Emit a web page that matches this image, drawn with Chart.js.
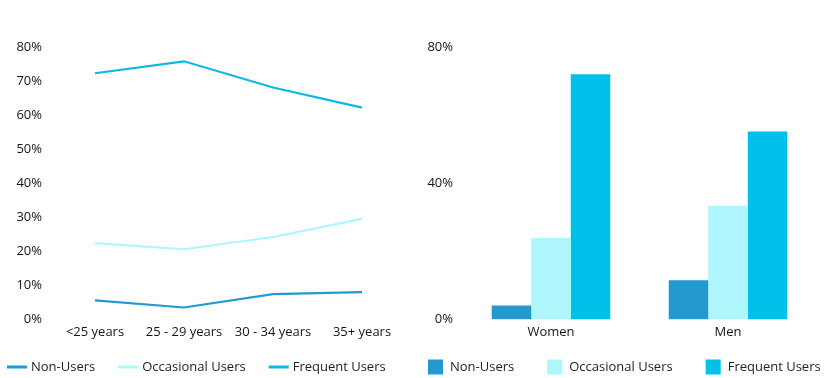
<!DOCTYPE html>
<html>
<head>
<meta charset="utf-8">
<script src="https://cdn.jsdelivr.net/npm/chart.js@4.4.1/dist/chart.umd.min.js"></script>
<style>
  html, body { margin: 0; padding: 0; background: #fff; overflow: hidden; }
  #wrapL { position: absolute; left: 0; top: 0; width: 415px; height: 378px; }
  #wrapR { position: absolute; left: 415px; top: 0; width: 423px; height: 378px; }
</style>
</head>
<body>
<div id="wrapL"><canvas id="lineChart"></canvas></div>
<div id="wrapR"><canvas id="barChart"></canvas></div>
<script>
const ageGroups = ['<25 years', '25 - 29 years', '30 - 34 years', '35+ years'];
const ageNonUsers = [5.6, 3.5, 7.4, 8.0];
const ageOccasional = [22.4, 20.6, 24.2, 29.5];
const ageFrequent = [72.3, 75.8, 68.1, 62.2];

const genders = ['Women', 'Men'];
const genderNonUsers = [4.1, 11.5];
const genderOccasional = [23.9, 33.4];
const genderFrequent = [72.0, 55.2];

const seriesNames = ['Non-Users', 'Occasional Users', 'Frequent Users'];

const cNon = '#2399cf';
const cOcc = '#aff6fc';
const cFreq = '#00c0e9';
const cFreqLine = '#0ab9e4';

const FONT = "'Open Sans', sans-serif";
Chart.defaults.font.family = FONT;
Chart.defaults.font.size = 13;
Chart.defaults.color = '#151515';
Chart.defaults.animation = false;
Chart.defaults.maintainAspectRatio = false;
Chart.defaults.responsive = true;

// Simple bottom legend drawn from the chart's own datasets
const bottomLegend = {
  id: 'bottomLegend',
  afterDraw(chart, args, o) {
    const ctx = chart.ctx;
    ctx.save();
    ctx.font = '13px ' + FONT;
    ctx.textBaseline = 'middle';
    ctx.textAlign = 'left';
    let x = o.startX;
    const y = o.y;
    chart.data.datasets.forEach((ds) => {
      const col = ds.borderColor && o.style === 'line' ? ds.borderColor : ds.backgroundColor;
      if (o.style === 'line') {
        ctx.strokeStyle = col;
        ctx.lineWidth = 3;
        ctx.beginPath();
        ctx.moveTo(x, y);
        ctx.lineTo(x + o.markW, y);
        ctx.stroke();
      } else {
        ctx.fillStyle = col;
        ctx.fillRect(x, y - o.markW / 2, o.markW, o.markW);
      }
      x += o.markW + o.textGap;
      ctx.fillStyle = '#222';
      ctx.fillText(ds.label, x, y + 0.5);
      x += ctx.measureText(ds.label).width + o.itemGap;
    });
    ctx.restore();
  }
};

new Chart(document.getElementById('lineChart'), {
  type: 'line',
  data: {
    labels: ageGroups,
    datasets: [
      { label: seriesNames[0], data: ageNonUsers, borderColor: cNon, backgroundColor: cNon, borderWidth: 2.2 },
      { label: seriesNames[1], data: ageOccasional, borderColor: cOcc, backgroundColor: cOcc, borderWidth: 2.2 },
      { label: seriesNames[2], data: ageFrequent, borderColor: cFreqLine, backgroundColor: cFreqLine, borderWidth: 2.2 }
    ]
  },
  plugins: [bottomLegend],
  options: {
    layout: { padding: { top: 47, right: 8.5, left: 0, bottom: 33 } },
    elements: { line: { tension: 0 }, point: { radius: 0, hoverRadius: 0 } },
    plugins: {
      tooltip: { enabled: false },
      legend: { display: false },
      bottomLegend: { style: 'line', startX: 7, y: 367, markW: 20, textGap: 4, itemGap: 23 }
    },
    scales: {
      x: {
        offset: true,
        grid: { display: false, drawTicks: false },
        border: { display: false },
        ticks: { padding: 5, maxRotation: 0, autoSkip: false }
      },
      y: {
        min: 0, max: 80,
        grid: { display: false, drawTicks: false },
        border: { display: false },
        afterFit: (s) => { s.width = 50.5; },
        ticks: { stepSize: 10, padding: 8.5, callback: (v) => v + '%' }
      }
    }
  }
});

new Chart(document.getElementById('barChart'), {
  type: 'bar',
  data: {
    labels: genders,
    datasets: [
      { label: seriesNames[0], data: genderNonUsers, backgroundColor: cNon },
      { label: seriesNames[1], data: genderOccasional, backgroundColor: cOcc },
      { label: seriesNames[2], data: genderFrequent, backgroundColor: cFreq }
    ]
  },
  plugins: [bottomLegend],
  options: {
    layout: { padding: { top: 47, right: 21.5, left: 0, bottom: 33 } },
    datasets: { bar: { categoryPercentage: 0.67, barPercentage: 1.0, borderWidth: 0 } },
    plugins: {
      tooltip: { enabled: false },
      legend: { display: false },
      bottomLegend: { style: 'box', startX: 13, y: 367, markW: 15, textGap: 7, itemGap: 33 }
    },
    scales: {
      x: {
        grid: { display: false, drawTicks: false },
        border: { display: false },
        ticks: { padding: 5, maxRotation: 0 }
      },
      y: {
        min: 0, max: 80,
        grid: { display: false, drawTicks: false },
        border: { display: false },
        afterFit: (s) => { s.width = 47.5; },
        ticks: { stepSize: 40, padding: 9.5, callback: (v) => v + '%' }
      }
    }
  }
});
</script>
</body>
</html>
